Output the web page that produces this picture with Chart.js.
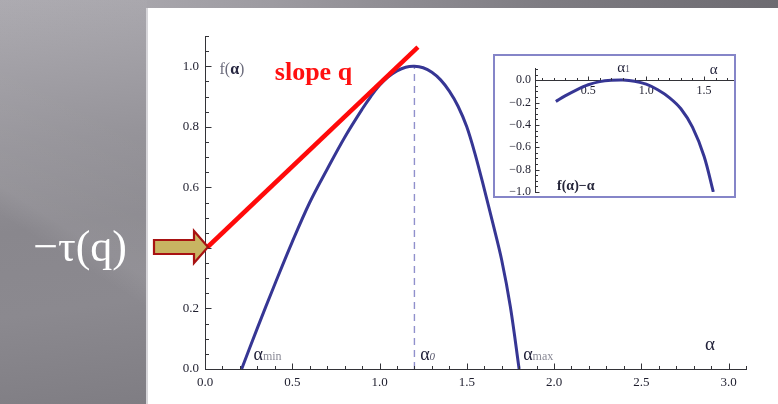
<!DOCTYPE html>
<html>
<head>
<meta charset="utf-8">
<script src="https://cdn.jsdelivr.net/npm/chart.js@4.4.1/dist/chart.umd.min.js"></script>
<style>
    html, body { margin: 0; padding: 0; }
    body {
        width: 778px; height: 404px; overflow: hidden; position: relative;
        background: linear-gradient(to right, #b3b1b7 0%, #9d9ba1 35%, #7e7c82 70%, #6d6b71 100%);
    }
    #side {
        position: absolute; left: 0; top: 0; width: 147px; height: 404px;
        background:
            linear-gradient(32deg, rgba(255,255,255,0) 38%, rgba(255,255,255,0.07) 44%, rgba(255,255,255,0.03) 70%),
            linear-gradient(172deg, #aaa8ae 0%, #939197 35%, #89878d 55%, #8b898f 75%, #7f7d83 100%);
    }
    #panel {
        position: absolute; left: 146px; top: 8px; width: 632px; height: 396px;
        background: #fff; border-left: 2px solid #d6d5d9; box-sizing: border-box;
    }
    #main { position: absolute; left: 0; top: 0; }
    #insetBox {
        position: absolute; left: 493px; top: 54px; width: 243px; height: 144px;
        border: 2px solid #8585c8; box-sizing: border-box; background: #fff;
    }
    #inset { position: absolute; left: 0; top: 0; }
</style>
</head>
<body>
<div id="side"></div>
<div id="panel"></div>
<canvas id="main" width="778" height="404"></canvas>
<div id="insetBox"><canvas id="inset" width="239" height="140"></canvas></div>
<script>
// main spectrum f(alpha)
const alphaValues = [0.21, 0.30, 0.40, 0.50, 0.60, 0.70, 0.80, 0.90, 0.95, 1.00, 1.05, 1.10, 1.15, 1.20,
    1.25, 1.30, 1.35, 1.40, 1.45, 1.50, 1.55, 1.60, 1.65, 1.70, 1.75, 1.80];
const fValues = [0, 0.135, 0.28, 0.42, 0.55, 0.66, 0.765, 0.858, 0.90, 0.937, 0.965, 0.985, 0.997, 1.0,
    0.995, 0.98, 0.955, 0.918, 0.868, 0.80, 0.705, 0.595, 0.48, 0.36, 0.205, 0];

// tangent line of slope q, crossing the f axis at -tau(q)
const tangentAlpha = [0.015, 1.22];
const tangentF = [0.403, 1.063];
const tauQ = 0.403;

// alpha0 marker
const alpha0 = 1.2;
const alpha0F = [0, 1.0];

// inset: f(alpha) - alpha
const insetAlpha = [0.22, 0.30, 0.40, 0.50, 0.60, 0.70, 0.80, 0.90, 1.00, 1.10, 1.20, 1.30, 1.40, 1.50, 1.58];
const insetValues = [-0.19, -0.14, -0.085, -0.04, -0.012, 0.0, 0.003, -0.008, -0.035, -0.085, -0.155,
    -0.255, -0.42, -0.68, -1.0];

const xTickLabels = [0, 0.5, 1.0, 1.5, 2.0, 2.5, 3.0];
const yTickLabels = [0, 0.2, 0.4, 0.6, 0.8, 1.0];
const insetXTickLabels = [0.5, 1.0, 1.5];
const insetYTickLabels = [0, -0.2, -0.4, -0.6, -0.8, -1.0];

const SERIF = "'Liberation Serif', 'DejaVu Serif', serif";
const AXIS = '#333338';
const LABEL = '#1e1e2e';
const CURVE = '#363694';

function points(xs, ys) {
    return xs.map((x, i) => ({ x, y: ys[i] }));
}

function drawRun(ctx, x, y, pieces) {
    pieces.forEach(([text, font, color, dy]) => {
        ctx.font = font;
        ctx.fillStyle = color;
        ctx.fillText(text, x, y + (dy || 0));
        x += ctx.measureText(text).width;
    });
    return x;
}

// Mathematica style ticks pointing into the plot
const inwardTicks = {
    id: 'inwardTicks',
    afterDatasetsDraw(chart, args, opts) {
        const { ctx, chartArea } = chart;
        const xs = chart.scales.x;
        const ys = chart.scales.y;
        const baseY = Math.round(ys.getPixelForValue(opts.xAxisAt)) + 0.5;
        const baseX = Math.round(chartArea.left) + 0.5;

        ctx.save();
        ctx.strokeStyle = AXIS;
        ctx.lineWidth = 1;
        ctx.beginPath();
        for (let i = opts.xFrom; i <= opts.xTo; i++) {
            const v = i * opts.xStep;
            const len = i % opts.xMajorEvery === 0 ? opts.major : opts.minor;
            const px = Math.round(xs.getPixelForValue(v)) + 0.5;
            ctx.moveTo(px, baseY);
            ctx.lineTo(px, baseY - len);
        }
        for (let i = opts.yFrom; i <= opts.yTo; i++) {
            const v = i * opts.yStep;
            const len = i % opts.yMajorEvery === 0 ? opts.major : opts.minor;
            const py = Math.round(ys.getPixelForValue(v)) + 0.5;
            ctx.moveTo(baseX, py);
            ctx.lineTo(baseX + len, py);
        }
        ctx.stroke();
        ctx.restore();
    },
};

const mainNotes = {
    id: 'mainNotes',
    afterDraw(chart) {
        const { ctx } = chart;
        const { x, y } = chart.scales;
        ctx.save();
        ctx.textBaseline = 'alphabetic';
        ctx.textAlign = 'left';

        drawRun(ctx, x.getPixelForValue(0.083), y.getPixelForValue(0.975), [
            ['f(', `16px ${SERIF}`, '#6c6c7c'],
            ['α', `bold 16px ${SERIF}`, '#262640'],
            [')', `16px ${SERIF}`, '#6c6c7c'],
        ]);

        drawRun(ctx, x.getPixelForValue(0.40), y.getPixelForValue(0.954), [
            ['slope q', `bold 26px ${SERIF}`, '#ff1010'],
        ]);

        const base = y.getPixelForValue(0.03);
        drawRun(ctx, x.getPixelForValue(0.278), base, [
            ['α', `18px ${SERIF}`, '#22223a'],
            ['min', `12px ${SERIF}`, '#8a8a96'],
        ]);
        drawRun(ctx, x.getPixelForValue(1.233), base, [
            ['α', `18px ${SERIF}`, '#22223a'],
            ['0', `italic 11px ${SERIF}`, '#55556a'],
        ]);
        drawRun(ctx, x.getPixelForValue(1.823), base, [
            ['α', `18px ${SERIF}`, '#22223a'],
            ['max', `12px ${SERIF}`, '#8a8a96'],
        ]);
        drawRun(ctx, x.getPixelForValue(2.865), y.getPixelForValue(0.063), [
            ['α', `19px ${SERIF}`, '#22223a'],
        ]);

        // arrow pointing at -tau(q)
        const tipX = x.getPixelForValue(0) + 3;
        const tipY = y.getPixelForValue(tauQ);
        ctx.beginPath();
        ctx.moveTo(tipX - 54, tipY - 7);
        ctx.lineTo(tipX - 14, tipY - 7);
        ctx.lineTo(tipX - 14, tipY - 16);
        ctx.lineTo(tipX, tipY);
        ctx.lineTo(tipX - 14, tipY + 16);
        ctx.lineTo(tipX - 14, tipY + 7);
        ctx.lineTo(tipX - 54, tipY + 7);
        ctx.closePath();
        ctx.fillStyle = '#c8b462';
        ctx.fill();
        ctx.lineWidth = 2.2;
        ctx.strokeStyle = '#a81212';
        ctx.lineJoin = 'miter';
        ctx.stroke();

        ctx.font = `44px ${SERIF}`;
        ctx.fillStyle = '#ffffff';
        ctx.textAlign = 'right';
        ctx.textBaseline = 'middle';
        ctx.fillText('−τ(q)', 127, tipY + 2);
        ctx.restore();
    },
};

const insetNotes = {
    id: 'insetNotes',
    afterDraw(chart) {
        const { ctx } = chart;
        const { x, y } = chart.scales;
        ctx.save();
        ctx.textBaseline = 'alphabetic';
        drawRun(ctx, x.getPixelForValue(0.75), y.getPixelForValue(0.075), [
            ['α', `15px ${SERIF}`, '#22223a'],
            ['1', `10px ${SERIF}`, '#55556a'],
        ]);
        drawRun(ctx, x.getPixelForValue(1.55), y.getPixelForValue(0.06), [
            ['α', `15px ${SERIF}`, '#22223a'],
        ]);
        drawRun(ctx, x.getPixelForValue(0.23), y.getPixelForValue(-0.985), [
            ['f(α)−α', `bold 14px ${SERIF}`, '#26263a'],
        ]);
        ctx.restore();
    },
};

const baseTicks = (size) => ({
    color: LABEL,
    font: { family: SERIF, size },
    autoSkip: false,
    maxRotation: 0,
});

new Chart(document.getElementById('main'), {
    type: 'scatter',
    data: {
        datasets: [
            {
                data: points(tangentAlpha, tangentF),
                showLine: true,
                borderColor: '#ff0a0a',
                borderWidth: 4.5,
                borderCapStyle: 'butt',
                pointRadius: 0,
                order: 0,
            },
            {
                data: points(alphaValues, fValues),
                showLine: true,
                borderColor: CURVE,
                borderWidth: 3,
                tension: 0.35,
                pointRadius: 0,
                order: 1,
            },
            {
                data: points([alpha0, alpha0], alpha0F),
                showLine: true,
                borderColor: '#9090cc',
                borderWidth: 1.4,
                borderDash: [7, 5],
                pointRadius: 0,
                order: 2,
            },
        ],
    },
    options: {
        responsive: false,
        animation: false,
        events: [],
        layout: { padding: { left: 145, top: 36, right: 32, bottom: 0 } },
        plugins: {
            legend: { display: false },
            tooltip: { enabled: false },
            inwardTicks: {
                xAxisAt: 0, xFrom: 0, xTo: 31, xStep: 0.1, xMajorEvery: 5,
                yFrom: 0, yTo: 22, yStep: 0.05, yMajorEvery: 4,
                major: 6, minor: 3.5,
            },
        },
        scales: {
            x: {
                type: 'linear',
                min: 0,
                max: 3.1,
                grid: { display: false, drawTicks: false },
                border: { display: true, color: AXIS, width: 1 },
                afterBuildTicks: (scale) => { scale.ticks = xTickLabels.map((v) => ({ value: v })); },
                afterFit: (scale) => { scale.height = 35; scale.paddingLeft = 0; scale.paddingRight = 0; },
                ticks: { ...baseTicks(13), padding: 6, callback: (v) => v.toFixed(1) },
            },
            y: {
                type: 'linear',
                min: 0,
                max: 1.1,
                grid: { display: false, drawTicks: false },
                border: { display: true, color: AXIS, width: 1 },
                afterBuildTicks: (scale) => { scale.ticks = yTickLabels.map((v) => ({ value: v })); },
                afterFit: (scale) => { scale.width = 60; scale.paddingTop = 0; scale.paddingBottom = 0; },
                ticks: { ...baseTicks(13), padding: 6, callback: (v) => v.toFixed(1) },
            },
        },
    },
    plugins: [inwardTicks, mainNotes],
});

new Chart(document.getElementById('inset'), {
    type: 'scatter',
    data: {
        datasets: [
            {
                data: points(insetAlpha, insetValues),
                showLine: true,
                borderColor: CURVE,
                borderWidth: 3,
                tension: 0.35,
                pointRadius: 0,
            },
        ],
    },
    options: {
        responsive: false,
        animation: false,
        events: [],
        layout: { padding: { left: 2, top: 12, right: 1, bottom: 4 } },
        plugins: {
            legend: { display: false },
            tooltip: { enabled: false },
            inwardTicks: {
                xAxisAt: 0, xFrom: 1, xTo: 17, xStep: 0.1, xMajorEvery: 5,
                yFrom: -20, yTo: 2, yStep: 0.05, yMajorEvery: 4,
                major: 4, minor: 2.5,
            },
        },
        scales: {
            x: {
                type: 'linear',
                min: 0.04,
                max: 1.75,
                position: { y: 0 },
                grid: { display: false, drawTicks: false },
                border: { display: true, color: AXIS, width: 1 },
                afterBuildTicks: (scale) => { scale.ticks = insetXTickLabels.map((v) => ({ value: v })); },
                afterFit: (scale) => { scale.paddingLeft = 0; scale.paddingRight = 0; },
                ticks: { ...baseTicks(12), padding: 3, callback: (v) => v.toFixed(1) },
            },
            y: {
                type: 'linear',
                min: -1.0,
                max: 0.11,
                grid: { display: false, drawTicks: false },
                border: { display: true, color: AXIS, width: 1 },
                afterBuildTicks: (scale) => { scale.ticks = insetYTickLabels.map((v) => ({ value: v })); },
                afterFit: (scale) => { scale.width = 38; scale.paddingTop = 0; scale.paddingBottom = 0; },
                ticks: {
                    ...baseTicks(12),
                    padding: 4,
                    callback: (v) => (v < 0 ? '−' : '') + Math.abs(v).toFixed(1),
                },
            },
        },
    },
    plugins: [inwardTicks, insetNotes],
});
</script>
</body>
</html>
